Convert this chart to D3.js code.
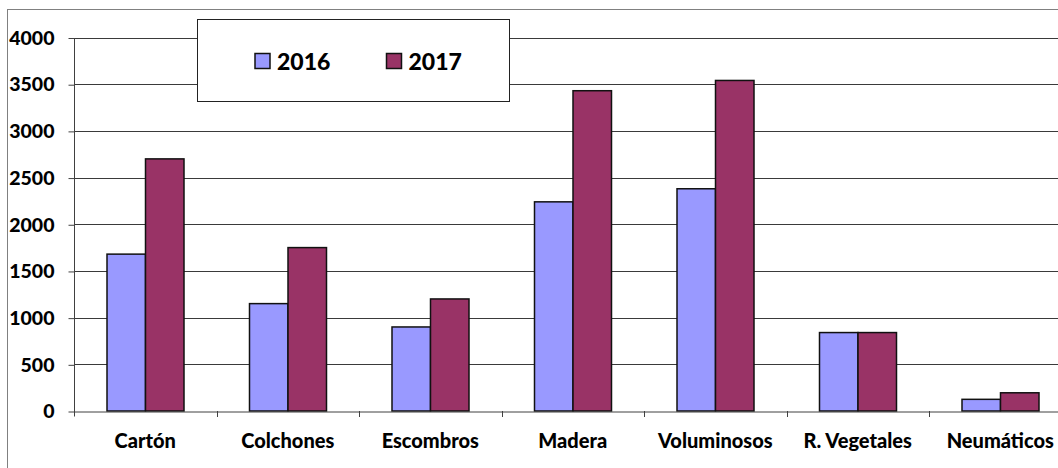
<!DOCTYPE html>
<html><head><meta charset="utf-8">
<script src="https://cdn.jsdelivr.net/npm/d3@7"></script>
<style>body{margin:0;background:#fff;} svg{display:block;font-family:Lato,"Open Sans",sans-serif;}</style>
</head><body>
<svg id="c" width="1058" height="468"></svg>
<script>
const categories = ["Cartón","Colchones","Escombros","Madera","Voluminosos","R. Vegetales","Neumáticos"];
const series = ["2016","2017"];
const values2016 = [1680,1150,900,2240,2380,840,125];
const values2017 = [2700,1750,1200,3430,3540,840,195];
const yTicks = [0,500,1000,1500,2000,2500,3000,3500,4000];
const colors = ["#9999FF","#993366"];

const svg = d3.select("#c");
const x0 = 74, catW = 142.5;
const x = d3.scaleBand().domain(categories).range([x0, x0 + catW*categories.length]).padding(0);
const xs = d3.scaleBand().domain(series).range([33, 33+77]).padding(0);
const y = d3.scaleLinear().domain([0,4000]).range([411, 37.5]);

// outer border
svg.append("rect").attr("x",7.5).attr("y",9.5).attr("width",1200).attr("height",600)
  .attr("fill","none").attr("stroke","#808080");

// gridlines
svg.append("g").selectAll("line").data(yTicks.filter(d=>d>0)).join("line")
  .attr("x1",x0).attr("x2",x0+catW*7)
  .attr("y1",d=>Math.round(y(d))+0.5).attr("y2",d=>Math.round(y(d))+0.5)
  .attr("stroke","#3a3a3a").attr("stroke-width",1);

// y axis
const yAxis = d3.axisLeft(y).tickValues(yTicks).tickFormat(d3.format("d")).tickSize(6).tickPadding(14);
const gy = svg.append("g").attr("transform",`translate(${x0+0.5},0.5)`).call(yAxis);
gy.select(".domain").attr("d",`M0,${y(4000)}V${y(0)+5}`).attr("stroke","#404040");
gy.selectAll(".tick line").attr("stroke","#404040");
gy.selectAll(".tick text").attr("font-size","19.5px").attr("font-weight","900").attr("fill","#000")
  .attr("font-family","Lato,'Open Sans',sans-serif");

// bars
const rows = categories.map((c,i)=>({c, v:[values2016[i], values2017[i]]}));
const grp = svg.append("g").selectAll("g").data(rows).join("g")
  .attr("transform",d=>`translate(${x(d.c)},0)`);
grp.selectAll("rect").data(d=>d.v.map((v,j)=>({s:series[j],v,j}))).join("rect")
  .attr("x",d=>xs(d.s)).attr("width",xs.bandwidth())
  .attr("y",d=>y(d.v)).attr("height",d=>y(0)-y(d.v))
  .attr("fill",d=>colors[d.j]).attr("stroke","#111").attr("stroke-width",1.5);

// x axis
const xAxis = d3.axisBottom(x).tickSize(0).tickPadding(22);
const gx = svg.append("g").attr("transform",`translate(0,${Math.round(y(0))+0.5})`).call(xAxis);
gx.select(".domain").attr("stroke","#404040");
gx.selectAll(".tick text").attr("font-size","20px").attr("font-weight","900").attr("fill","#000")
  .attr("font-family","Lato,'Open Sans',sans-serif");
svg.append("g").selectAll("line").data(categories).join("line")
  .attr("x1",d=>Math.round(x(d)+catW)+0.5).attr("x2",d=>Math.round(x(d)+catW)+0.5)
  .attr("y1",y(0)).attr("y2",y(0)+6).attr("stroke","#404040");

// legend
const lg = svg.append("g");
lg.append("rect").attr("x",197.5).attr("y",19.5).attr("width",312).attr("height",82)
  .attr("fill","#fff").attr("stroke","#222");
const items = lg.selectAll("g.it").data(series).join("g").attr("class","it")
  .attr("transform",(d,i)=>`translate(${i===0?255:386.5},53.5)`);
items.append("rect").attr("width",15).attr("height",15).attr("fill",(d,i)=>colors[i]).attr("stroke","#111").attr("stroke-width",1.5);
items.append("text").attr("x",22).attr("y",8).attr("dy","0.36em").text(d=>d)
  .attr("font-size","23px").attr("font-weight","900").attr("fill","#000");
</script>
</body></html>
